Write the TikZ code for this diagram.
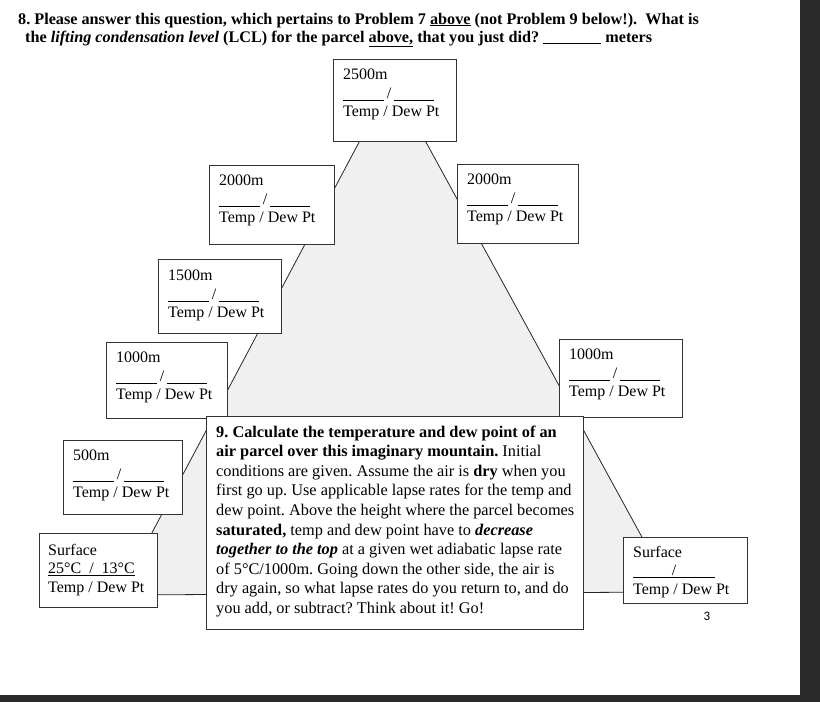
\documentclass[tikz,border=0pt]{standalone}
\usepackage{fontspec}
\setmainfont{Liberation Serif}
\newfontfamily\pagenumfont{Carlito}
\definecolor{darkbar}{RGB}{43,43,43}
\definecolor{mountgray}{RGB}{240,240,240}
\newcommand\blankpair{\rule[-2pt]{41pt}{0.7pt}\,/\,\rule[-2pt]{40pt}{0.7pt}}
\newcommand\blankone{\rlap{\rule[-2pt]{82pt}{0.7pt}}\makebox[82pt]{/}}
\frenchspacing
\begin{document}
\begin{tikzpicture}[x=1pt,y=-1pt,
  frame/.style={draw=black!80, line width=0.8pt, fill=white, inner sep=0pt, outer sep=0pt, anchor=north west},
  boxtxt/.style={anchor=north west, inner sep=0pt, align=left, font=\fontsize{16}{18.5}\selectfont},
  headtxt/.style={anchor=base west, inner sep=0pt, font=\bfseries\fontsize{16.2}{18}\selectfont},
  mount/.style={draw=black!85, line width=0.8pt, fill=mountgray}
]
\useasboundingbox (0,0) rectangle (820,702);
\fill[white] (0,0) rectangle (820,702);
\fill[darkbar] (800,0) rectangle (820,702);
\fill[darkbar] (0,695) rectangle (820,702);

% header
\node[headtxt] (h1) at (18,24) {8. Please answer this question, which pertains to Problem 7 \underline{above} (not Problem 9 below!).\ \ What is};
\node[headtxt] (h2) at (25,42) {the \textit{lifting condensation level} (LCL) for the parcel \underline{above,} that you just did? \rule[-2pt]{58pt}{0.8pt}\ meters};

% mountain
\coordinate (baseL) at (119,595);
\coordinate (apex) at (392,80);
\coordinate (baseR) at (672,592);
\draw[mount] (baseL) -- (apex) -- (baseR) -- cycle;

% boxes
\node[frame, minimum width=123, minimum height=82] (b2500) at (333,59) {};
\node[frame, minimum width=125, minimum height=79] (b2000L) at (209,165) {};
\node[frame, minimum width=121, minimum height=79] (b2000R) at (457,164) {};
\node[frame, minimum width=123, minimum height=74] (b1500) at (158,259) {};
\node[frame, minimum width=121, minimum height=76] (b1000L) at (106,342) {};
\node[frame, minimum width=123, minimum height=78] (b1000R) at (559,339) {};
\node[frame, minimum width=119, minimum height=74] (b500) at (63,440) {};
\node[frame, minimum width=118, minimum height=74] (bSL) at (39,533) {};
\node[frame, minimum width=124, minimum height=66] (bSR) at (623,537) {};
\node[frame, minimum width=377, minimum height=213] (bQ) at (206,416) {};

% box texts
\node[boxtxt] (t2500) at ([xshift=10pt,yshift=-10pt]b2500.north west) {2500m\\\blankpair\\Temp / Dew Pt};
\node[boxtxt] (t2000L) at ([xshift=10pt,yshift=-10pt]b2000L.north west) {2000m\\\blankpair\\Temp / Dew Pt};
\node[boxtxt] (t2000R) at ([xshift=10pt,yshift=-10pt]b2000R.north west) {2000m\\\blankpair\\Temp / Dew Pt};
\node[boxtxt] (t1500) at ([xshift=10pt,yshift=-11pt]b1500.north west) {1500m\\\blankpair\\Temp / Dew Pt};
\node[boxtxt] (t1000L) at ([xshift=10pt,yshift=-10pt]b1000L.north west) {1000m\\\blankpair\\Temp / Dew Pt};
\node[boxtxt] (t1000R) at ([xshift=10pt,yshift=-10pt]b1000R.north west) {1000m\\\blankpair\\Temp / Dew Pt};
\node[boxtxt] (t500) at ([xshift=10pt,yshift=-10pt]b500.north west) {500m\\\blankpair\\Temp / Dew Pt};
\node[boxtxt] (tSL) at ([xshift=9pt,yshift=-11pt]bSL.north west) {Surface\\\underline{25°C\ \ /\ \ 13°C}\\Temp / Dew Pt};
\node[boxtxt] (tSR) at ([xshift=10pt,yshift=-9pt]bSR.north west) {Surface\\\blankone\\Temp / Dew Pt};

\node[anchor=north west, inner sep=0pt, align=left, font=\fontsize{16.3}{19.6}\selectfont] (tQ) at ([xshift=10pt,yshift=-9.5pt]bQ.north west) {%
\textbf{9. Calculate the temperature and dew point of an}\\
\textbf{air parcel over this imaginary mountain.} Initial\\
conditions are given. Assume the air is \textbf{dry} when you\\
first go up. Use applicable lapse rates for the temp and\\
dew point. Above the height where the parcel becomes\\
\textbf{saturated,} temp and dew point have to \textbf{\textit{decrease}}\\
\textbf{\textit{together to the top}} at a given wet adiabatic lapse rate\\
of 5°C/1000m. Going down the other side, the air is\\
dry again, so what lapse rates do you return to, and do\\
you add, or subtract? Think about it! Go!};

\node[inner sep=0pt, font=\pagenumfont\fontsize{13}{13}\selectfont] (pg) at (707,616) {3};
\end{tikzpicture}
\end{document}
